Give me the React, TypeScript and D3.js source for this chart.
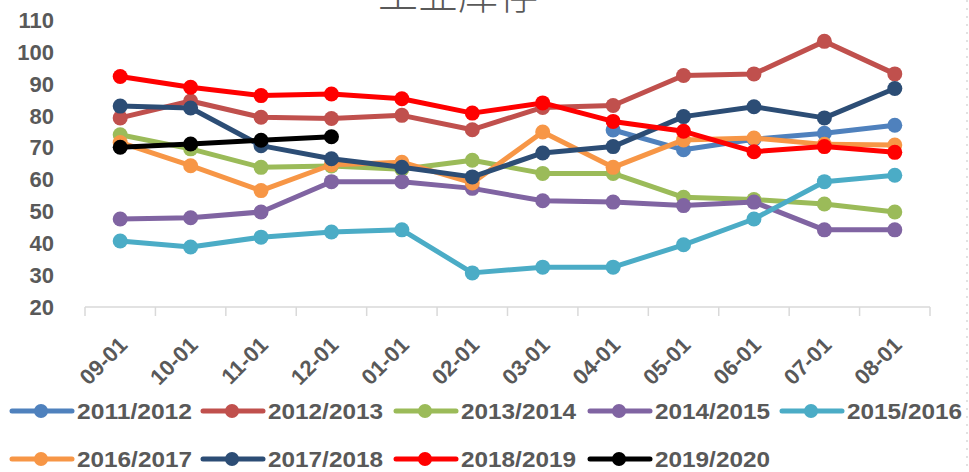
import React, { useEffect, useRef } from 'react';
import * as d3 from 'd3';

const months = ['09-01', '10-01', '11-01', '12-01', '01-01', '02-01', '03-01', '04-01', '05-01', '06-01', '07-01', '08-01'];
const yTicks = [20, 30, 40, 50, 60, 70, 80, 90, 100, 110];

const seriesNames = ['2011/2012', '2012/2013', '2013/2014', '2014/2015', '2015/2016', '2016/2017', '2017/2018', '2018/2019', '2019/2020'];
const seriesColors = ['#4F81BD', '#C0504D', '#9BBB59', '#8064A2', '#4BACC6', '#F79646', '#2C4D75', '#FF0000', '#000000'];

const s2011 = [null, null, null, null, null, null, null, 75.5, 69.3, 72.6, 74.5, 77];
const s2012 = [79.3, 84.6, 79.5, 79.1, 80.1, 75.6, 82.6, 83.2, 92.6, 93.1, 103.3, 93.1];
const s2013 = [74, 69.6, 63.8, 64.2, 63.2, 66, 61.9, 61.9, 54.4, 53.7, 52.3, 49.8];
const s2014 = [47.6, 48, 49.8, 59.3, 59.3, 57.2, 53.3, 52.9, 51.8, 52.9, 44.2, 44.2];
const s2015 = [40.7, 38.8, 41.9, 43.5, 44.2, 30.7, 32.5, 32.5, 39.5, 47.6, 59.3, 61.3];
const s2016 = [71.6, 64.3, 56.5, 64.6, 65.4, 58.9, 74.9, 63.8, 72.4, 73, 71, 70.8];
const s2017 = [83, 82.4, 70.6, 66.5, 63.8, 60.8, 68.3, 70.3, 79.7, 82.8, 79.3, 88.5];
const s2018 = [92.3, 88.9, 86.3, 86.8, 85.3, 80.8, 84, 78.2, 75.1, 68.7, 70.3, 68.5];
const s2019 = [70.1, 71.1, 72.3, 73.4, null, null, null, null, null, null, null, null];

const allSeries = [s2011, s2012, s2013, s2014, s2015, s2016, s2017, s2018, s2019];

const W = 969;
const H = 472;
const textGray = '#595959';

const App = () => {
    const svgRef = useRef<SVGSVGElement>(null);

    useEffect(() => {
        const svg = d3.select(svgRef.current);
        svg.selectAll('*').remove();

        const x = d3.scaleBand().domain(months).range([85, 930]);
        const y = d3.scaleLinear().domain([20, 110]).range([307, 20]);

        // Title (partly cut off at the top, as in the source image)
        svg.append('text')
            .attr('x', 458)
            .attr('y', 9)
            .attr('text-anchor', 'middle')
            .style('font-family', '"Noto Sans CJK SC", sans-serif')
            .style('font-weight', 300)
            .style('font-size', '40px')
            .style('fill', textGray)
            .text('工业库存');

        // Right border (dotted)
        svg.append('line')
            .attr('x1', 967).attr('x2', 967)
            .attr('y1', 0).attr('y2', H)
            .style('stroke', '#D9D9D9')
            .style('stroke-width', 1.5)
            .style('stroke-dasharray', '2,6');

        // Y labels
        svg.append('g')
            .selectAll('text')
            .data(yTicks)
            .enter()
            .append('text')
            .attr('x', 54)
            .attr('y', d => y(d))
            .attr('dy', '0.36em')
            .attr('text-anchor', 'end')
            .style('font-family', '"Liberation Sans", Arial, sans-serif')
            .style('font-weight', 'bold')
            .style('font-size', '22px')
            .style('fill', textGray)
            .text(d => d);

        // X axis line and ticks
        const axis = svg.append('g');
        axis.append('line')
            .attr('x1', 85).attr('x2', 930)
            .attr('y1', 307).attr('y2', 307)
            .style('stroke', '#D9D9D9')
            .style('stroke-width', 1.5);
        const edges = months.map(m => x(m) as number).concat([930]);
        axis.selectAll('.tick')
            .data(edges)
            .enter()
            .append('line')
            .attr('class', 'tick')
            .attr('x1', d => d).attr('x2', d => d)
            .attr('y1', 307).attr('y2', 316)
            .style('stroke', '#D9D9D9')
            .style('stroke-width', 1.5);

        axis.selectAll('.xlabel')
            .data(months)
            .enter()
            .append('text')
            .attr('class', 'xlabel')
            .attr('transform', d => `translate(${(x(d) as number) + x.bandwidth() / 2 + 3}, 341) rotate(-45)`)
            .attr('text-anchor', 'end')
            .attr('dy', '0.35em')
            .style('font-family', '"Liberation Sans", Arial, sans-serif')
            .style('font-weight', 'bold')
            .style('font-size', '22px')
            .style('fill', textGray)
            .text(d => d);

        // Lines and markers
        const cx = (i: number) => (x(months[i]) as number) + x.bandwidth() / 2;
        const line = d3.line<number | null>()
            .defined(d => d !== null)
            .x((d, i) => cx(i))
            .y(d => y(d as number));

        allSeries.forEach((vals, si) => {
            const g = svg.append('g');
            g.append('path')
                .datum(vals)
                .attr('d', line)
                .style('fill', 'none')
                .style('stroke', seriesColors[si])
                .style('stroke-width', 5)
                .style('stroke-linejoin', 'round');
            g.selectAll('circle')
                .data(vals.map((v, i) => ({ v, i })).filter(d => d.v !== null))
                .enter()
                .append('circle')
                .attr('cx', d => cx(d.i))
                .attr('cy', d => y(d.v as number))
                .attr('r', 7.5)
                .style('fill', seriesColors[si]);
        });

        // Legend
        const legendPos = [
            [12, 411], [203, 411], [396, 411], [590, 411], [782, 411],
            [12, 459], [203, 459], [396, 459], [590, 459],
        ];
        const legend = svg.append('g');
        seriesNames.forEach((name, i) => {
            const [lx, ly] = legendPos[i];
            const item = legend.append('g').attr('transform', `translate(${lx}, ${ly})`);
            item.append('line')
                .attr('x1', 0).attr('x2', 60)
                .attr('y1', 0).attr('y2', 0)
                .style('stroke', seriesColors[i])
                .style('stroke-width', 5)
                .style('stroke-linecap', 'round');
            item.append('circle')
                .attr('cx', 29).attr('cy', 0).attr('r', 7)
                .style('fill', seriesColors[i]);
            item.append('text')
                .attr('x', 65)
                .attr('y', 0)
                .attr('dy', '0.36em')
                .attr('textLength', 115)
                .attr('lengthAdjust', 'spacingAndGlyphs')
                .style('font-family', '"Liberation Sans", Arial, sans-serif')
                .style('font-weight', 'bold')
                .style('font-size', '22px')
                .style('fill', textGray)
                .text(name);
        });
    }, []);

    return (
        <div style={{ position: 'absolute', left: 0, top: 0, width: W, height: H, background: '#fff' }}>
            <svg ref={svgRef} width={W} height={H} style={{ display: 'block' }}></svg>
        </div>
    );
};

export default App;
